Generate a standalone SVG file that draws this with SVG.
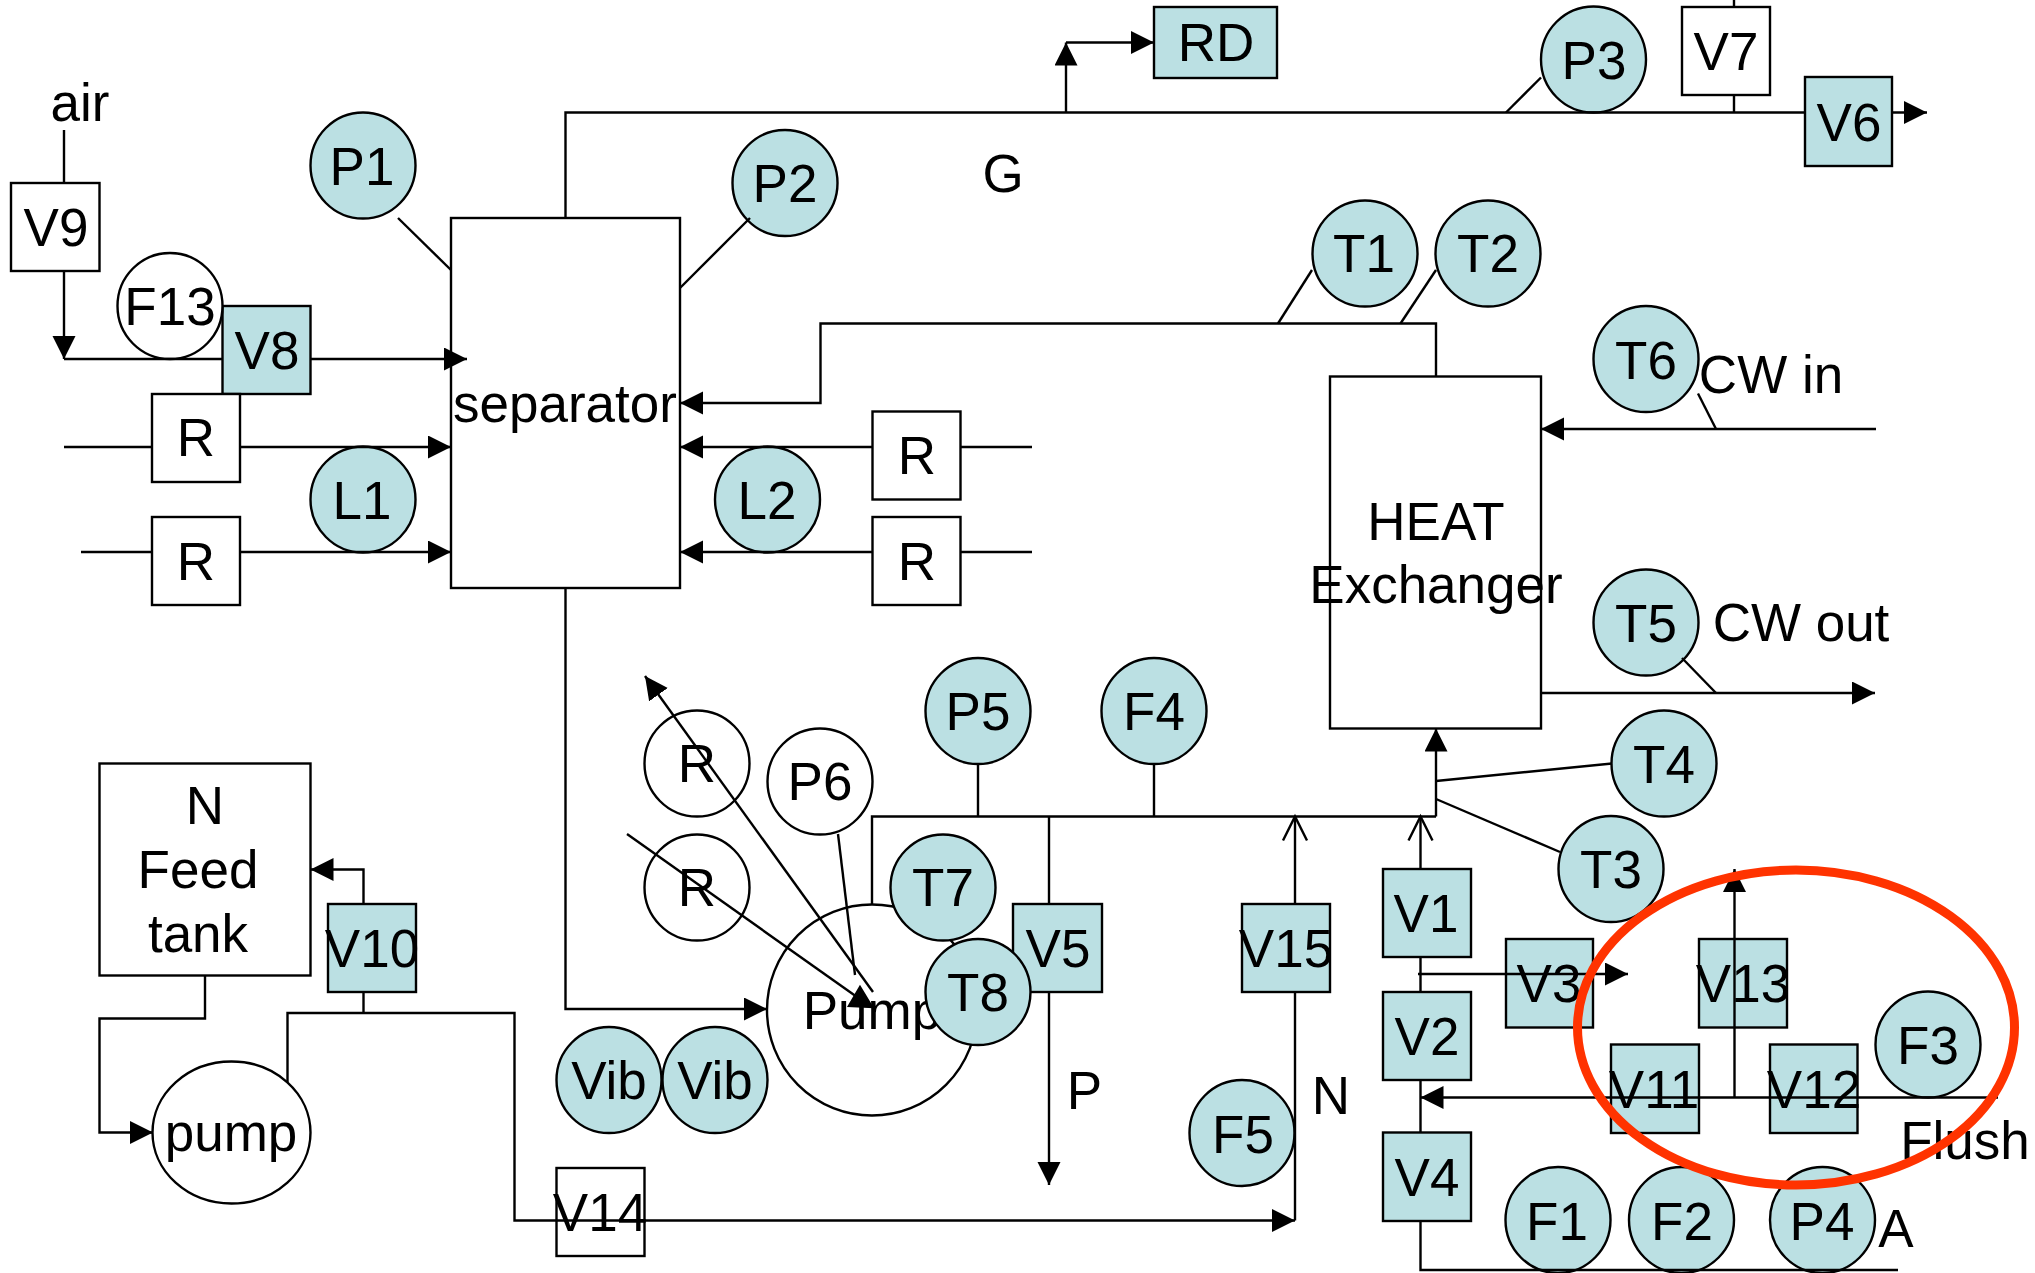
<svg xmlns="http://www.w3.org/2000/svg" width="2035" height="1273" viewBox="0 0 2035 1273">
<style>
text{font-family:"Liberation Sans",Arial,sans-serif;font-size:53px;fill:#000;text-anchor:middle}
.b{fill:#BBE0E3;stroke:#000;stroke-width:2.4}
.w{fill:#fff;stroke:#000;stroke-width:2.4}
.n{fill:none;stroke:#000;stroke-width:2.4}
.c path{fill:none;stroke:#000;stroke-width:2.4}
.a{marker-end:url(#ah)}
.o{marker-end:url(#oh)}
</style>
<defs>
<marker id="ah" markerUnits="userSpaceOnUse" markerWidth="24" markerHeight="24" refX="23" refY="11.5" orient="auto"><path d="M0 0L23 11.5L0 23Z" fill="#000"/></marker>
<marker id="oh" markerUnits="userSpaceOnUse" markerWidth="28" markerHeight="28" refX="25" refY="13" orient="auto" overflow="visible"><path d="M1 1L25 13L1 25" fill="none" stroke="#000" stroke-width="2.4"/></marker>
</defs>
<rect width="2035" height="1273" fill="#fff"/>
<g id="nodes">
<g id="separator"><rect class="w" x="451" y="218" width="229" height="370"/><text x="565" y="422">separator</text></g>
<g id="heat-exchanger"><rect class="w" x="1330" y="376.500" width="211" height="352"/><text x="1436" y="540">HEAT</text><text x="1436" y="603">Exchanger</text></g>
<g id="feed-tank"><rect class="w" x="99.500" y="763.500" width="211" height="212"/><text x="205" y="824">N</text><text x="198" y="888">Feed</text><text x="198" y="952">tank</text></g>
<g id="V9"><rect class="w" x="11" y="183" width="88.500" height="88"/><text x="56" y="246">V9</text></g>
<g id="V8"><rect class="b" x="222.500" y="306" width="88" height="88"/><text x="267" y="369">V8</text></g>
<g id="F13"><ellipse class="w" cx="170" cy="306" rx="52.500" ry="53"/><text x="170" y="325">F13</text></g>
<g id="R1"><rect class="w" x="152" y="394" width="88" height="88"/><text x="196" y="456">R</text></g>
<g id="R2"><rect class="w" x="152" y="517" width="88" height="88"/><text x="196" y="580">R</text></g>
<g id="R3"><rect class="w" x="872.500" y="411.500" width="88" height="88"/><text x="917" y="474">R</text></g>
<g id="R4"><rect class="w" x="872.500" y="517" width="88" height="88"/><text x="917" y="580">R</text></g>
<g id="P1"><ellipse class="b" cx="363" cy="165.500" rx="52.500" ry="53"/><text x="362" y="184.500">P1</text></g>
<g id="P2"><ellipse class="b" cx="785" cy="183" rx="52.500" ry="53"/><text x="785" y="202">P2</text></g>
<g id="L1"><ellipse class="b" cx="363" cy="499.500" rx="52.500" ry="53"/><text x="362" y="519">L1</text></g>
<g id="L2"><ellipse class="b" cx="767.500" cy="499.500" rx="52.500" ry="53"/><text x="767" y="519">L2</text></g>
<g id="RD"><rect class="b" x="1154" y="7" width="123" height="71"/><text x="1216" y="61">RD</text></g>
<g id="P3"><ellipse class="b" cx="1593.500" cy="59.500" rx="52.500" ry="53"/><text x="1594" y="79">P3</text></g>
<g id="V7"><rect class="w" x="1682" y="7" width="88" height="88"/><text x="1726" y="70">V7</text></g>
<g id="V6"><rect class="b" x="1805" y="77" width="87" height="89"/><text x="1849" y="141">V6</text></g>
<g id="T1"><ellipse class="b" cx="1365" cy="253.500" rx="52.500" ry="53"/><text x="1364" y="272">T1</text></g>
<g id="T2"><ellipse class="b" cx="1488" cy="253.500" rx="52.500" ry="53"/><text x="1488" y="272">T2</text></g>
<g id="T6"><ellipse class="b" cx="1646" cy="359" rx="52.500" ry="53"/><text x="1646" y="379">T6</text></g>
<g id="T5"><ellipse class="b" cx="1646" cy="622.500" rx="52.500" ry="53"/><text x="1646" y="642">T5</text></g>
<g id="T4"><ellipse class="b" cx="1664" cy="763.500" rx="52.500" ry="53"/><text x="1664" y="782.500">T4</text></g>
<g id="T3"><ellipse class="b" cx="1611" cy="869" rx="52.500" ry="53"/><text x="1611" y="888">T3</text></g>
<g id="P5"><ellipse class="b" cx="978" cy="711" rx="52.500" ry="53"/><text x="978" y="730">P5</text></g>
<g id="F4"><ellipse class="b" cx="1154" cy="711" rx="52.500" ry="53"/><text x="1154" y="730">F4</text></g>
<g id="R5"><ellipse class="w" cx="697" cy="763.500" rx="52.500" ry="53"/><text x="697" y="782">R</text></g>
<g id="R6"><ellipse class="w" cx="697" cy="887.500" rx="52.500" ry="53"/><text x="697" y="906">R</text></g>
<g id="P6"><ellipse class="w" cx="820" cy="781.500" rx="52.500" ry="53"/><text x="820" y="800">P6</text></g>
<g id="Pump"><ellipse class="w" cx="872" cy="1010" rx="105" ry="105.500"/><text x="872" y="1029">Pump</text></g>
<g id="V5"><rect class="b" x="1013" y="904" width="89" height="88"/><text x="1058" y="967">V5</text></g>
<g id="T7"><ellipse class="b" cx="943" cy="887.500" rx="52.500" ry="53"/><text x="943" y="906">T7</text></g>
<g id="T8"><ellipse class="b" cx="978" cy="992" rx="52.500" ry="53"/><text x="978" y="1011">T8</text></g>
<g id="Vib1"><ellipse class="b" cx="609" cy="1080" rx="52.500" ry="53"/><text x="609" y="1099">Vib</text></g>
<g id="Vib2"><ellipse class="b" cx="715" cy="1080" rx="52.500" ry="53"/><text x="715" y="1099">Vib</text></g>
<g id="pump"><ellipse class="w" cx="231.500" cy="1132.500" rx="79" ry="71"/><text x="231" y="1151">pump</text></g>
<g id="V10"><rect class="b" x="328" y="904" width="88" height="88"/><text x="372" y="967">V10</text></g>
<g id="V14"><rect class="n" x="556.500" y="1168" width="88" height="88"/><text x="600" y="1231">V14</text></g>
<g id="V15"><rect class="b" x="1242" y="904" width="88" height="88"/><text x="1286" y="967">V15</text></g>
<g id="F5"><ellipse class="b" cx="1242" cy="1133" rx="52.500" ry="53"/><text x="1243" y="1153">F5</text></g>
<g id="V1"><rect class="b" x="1383" y="869" width="88" height="88"/><text x="1426" y="931.500">V1</text></g>
<g id="V2"><rect class="b" x="1383" y="992" width="88" height="88"/><text x="1427" y="1054.500">V2</text></g>
<g id="V4"><rect class="b" x="1383" y="1132.500" width="88" height="88.500"/><text x="1427" y="1195.500">V4</text></g>
<g id="V3"><rect class="b" x="1506" y="939" width="87" height="88.500"/><text x="1549" y="1002">V3</text></g>
<g id="V13"><rect class="b" x="1699" y="939" width="88" height="88.500"/><text x="1743" y="1002">V13</text></g>
<g id="V11"><rect class="b" x="1611" y="1044.500" width="88" height="88.500"/><text x="1654" y="1108">V11</text></g>
<g id="V12"><rect class="b" x="1770" y="1044.500" width="87.500" height="88.500"/><text x="1814" y="1108">V12</text></g>
<g id="F3"><ellipse class="b" cx="1928" cy="1044.500" rx="52.500" ry="53"/><text x="1928" y="1064">F3</text></g>
<g id="F1"><ellipse class="b" cx="1558" cy="1220" rx="52.500" ry="53"/><text x="1557" y="1239.500">F1</text></g>
<g id="F2"><ellipse class="b" cx="1681.500" cy="1220" rx="52.500" ry="53"/><text x="1682" y="1239.500">F2</text></g>
<g id="P4"><ellipse class="b" cx="1822.500" cy="1220" rx="52.500" ry="53"/><text x="1822" y="1239.500">P4</text></g>
</g>
<g id="labels">
<text x="80" y="121">air</text>
<text x="1003" y="192">G</text>
<text x="1771" y="393">CW in</text>
<text x="1801" y="641">CW out</text>
<text x="1084.500" y="1109">P</text>
<text x="1331" y="1114">N</text>
<text x="1965" y="1159">Flush</text>
<text x="1896" y="1247">A</text>
</g>
<g id="connectors" class="c">
<path d="M64 130V183"/>
<path class="a" d="M64 271V359"/>
<path d="M64 359H222.500"/>
<path class="a" d="M310.500 359H467"/>
<path d="M64 447H152"/>
<path class="a" d="M240 447H451"/>
<path d="M81 552H152"/>
<path class="a" d="M240 552H451"/>
<path d="M1032 447H960"/>
<path class="a" d="M872 447H680"/>
<path d="M1032 552H960"/>
<path class="a" d="M872 552H680"/>
<path d="M565.500 218V112.500H1805"/>
<path class="a" d="M1892 112.500H1927"/>
<path class="a" d="M1066 112.500V42.500"/>
<path class="a" d="M1066 42.500H1154"/>
<path d="M1734 0V7M1734 95V112.500"/>
<path d="M398 218L451 270"/>
<path d="M750 218L680 288"/>
<path d="M1541 77.500L1506 112.500"/>
<path class="a" d="M1436 376.500V323.500H820.500V403H680"/>
<path d="M1312 270L1278 323.500"/>
<path d="M1436 270L1400.500 323.500"/>
<path d="M1698 393.500L1716 429"/>
<path class="a" d="M1876 429H1541"/>
<path d="M1682 658L1716 693"/>
<path class="a" d="M1541 693H1875"/>
<path class="a" d="M565.500 588V1009H767"/>
<path class="a" d="M205 975.500V1018.500H99.500V1132.500H153"/>
<path class="a" d="M363.500 904V869.500H310.500"/>
<path d="M363.500 992V1013"/>
<path class="a" d="M287.500 1082V1013H514.500V1220.500H1295"/>
<path d="M1295 1220.500V992"/>
<path class="o" d="M1295 904V816.500"/>
<path d="M872 904V816.500H1436"/>
<path class="a" d="M1436 816.500V728.500"/>
<path d="M1436 799L1560 852"/>
<path d="M1436 781L1612 763.500"/>
<path d="M978 764V816.500M1154 764V816.500"/>
<path d="M1049 816.500V904"/>
<path class="a" d="M1049 992V1185"/>
<path class="o" d="M1420.500 869V816.500"/>
<path d="M1420.500 957V992M1420.500 1080V1132.500"/>
<path d="M1420.500 1221V1270H1898"/>
<path class="a" d="M1418 974H1628"/>
<path class="a" d="M1998 1097.500H1420.500"/>
<path class="a" d="M1734.500 1097.500V869"/>
<path class="a" d="M873 992L645 676"/>
<path d="M838 834L855 975"/>
<path d="M627 834L857 997"/>
<path d="M860 987L849 1006L872 1007Z" style="fill:#000"/>
</g>
<ellipse id="highlight" cx="1796" cy="1027.500" rx="218.500" ry="157.500" fill="none" stroke="#FF3300" stroke-width="9"/>
</svg>
